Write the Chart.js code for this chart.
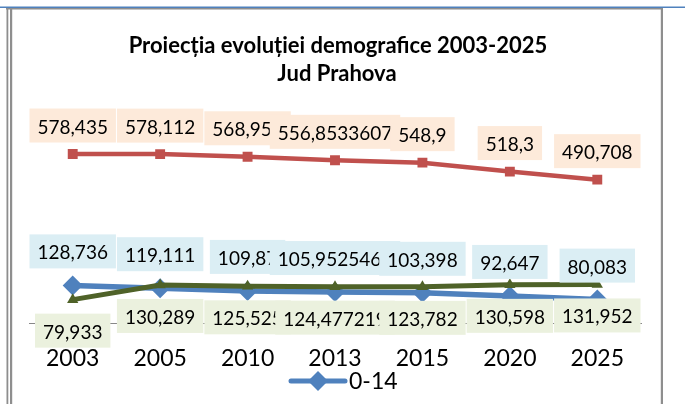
<!DOCTYPE html>
<html><head><meta charset="utf-8">
<script src="https://cdn.jsdelivr.net/npm/chart.js@4/dist/chart.umd.min.js"></script>
<style>html,body{margin:0;padding:0;background:#fff;overflow:hidden}
#wrap{position:relative;width:685px;height:404px}
</style></head><body><div id="wrap"><canvas id="c" width="685" height="404"></canvas></div>
<script>
// ---- data (thousands of inhabitants) ----
const categories = ['2003', '2005', '2010', '2013', '2015', '2020', '2025'];
const seriesNames = ['15-64', '0-14', '65+'];
const pop15_64 = [578.435, 578.112, 568.953, 556.8533607, 548.9, 518.3, 490.708];
const pop0_14 = [128.736, 119.111, 109.87, 105.9525463, 103.398, 92.647, 80.083];
const pop65 = [79.933, 130.289, 125.525, 124.477219, 123.782, 130.598, 131.952];
const titleLines = ['Proiecția evoluției demografice 2003-2025', 'Jud Prahova'];
const legendShown = ['0-14'];
const yMin = 0, yMax = 700;

const FONT = 'Lato, "Open Sans", sans-serif';
const colors = ['#C0504D', '#4F81BD', '#4F6228'];
const labelBg = ['#FDEADA', '#DBEEF4', '#EBF1DE'];
const labelDy = [-27.5, -33, 32];
const fmt = v => String(v).replace('.', ',');

const framePlugin = {
  id: 'frame',
  beforeDraw(chart) {
    const c = chart.ctx; c.save();
    c.fillStyle = '#fff'; c.fillRect(0, 0, chart.width, chart.height);
    c.fillStyle = '#4F81BD'; c.fillRect(0, 6.5, 685, 1.5);
    c.fillStyle = '#8E8E8E';
    c.fillRect(6, 8, 657, 1.5);
    c.fillRect(6.5, 8, 1.8, 396);
    c.fillRect(10, 8, 2.2, 396);
    c.fillRect(660.8, 8, 2.2, 396);
    c.restore();
  }
};

const labelPlugin = {
  id: 'dlabels',
  afterDatasetsDraw(chart) {
    const c = chart.ctx; c.save();
    c.font = '19px ' + FONT; c.textAlign = 'center'; c.textBaseline = 'alphabetic';
    chart.data.datasets.forEach((ds, i) => {
      const meta = chart.getDatasetMeta(i);
      meta.data.forEach((pt, j) => {
        const txt = fmt(ds.data[j]);
        const w = c.measureText(txt).width;
        const cy = pt.y + labelDy[i];
        c.fillStyle = labelBg[i];
        c.fillRect(pt.x - w / 2 - 8, cy - 1 - 17, w + 16, 34);
        c.fillStyle = '#000';
        c.fillText(txt, pt.x, cy + 7);
      });
    });
    c.restore();
  },
  afterDraw(chart) {
    const c = chart.ctx; c.save();
    c.fillStyle = '#000'; c.textAlign = 'center'; c.textBaseline = 'alphabetic';
    c.font = 'bold 22px ' + FONT;
    c.fillText(titleLines[0], 338, 53);
    c.fillText(titleLines[1], 337, 81);
    // legend (only the first entry is visible in the cropped original)
    const ly = 381;
    c.strokeStyle = colors[1]; c.lineWidth = 5; c.lineCap = 'round';
    c.beginPath(); c.moveTo(291, ly); c.lineTo(345, ly); c.stroke();
    c.fillStyle = colors[1];
    c.beginPath(); c.moveTo(318, ly - 10); c.lineTo(328, ly); c.lineTo(318, ly + 10); c.lineTo(308, ly); c.closePath(); c.fill();
    c.fillStyle = '#000'; c.textAlign = 'left'; c.font = '23px ' + FONT;
    c.fillText(legendShown[0], 349, ly + 8);
    c.restore();
  }
};

function build() {
  new Chart(document.getElementById('c'), {
    type: 'line',
    data: {
      labels: categories,
      datasets: [
        { label: seriesNames[0], data: pop15_64, borderColor: colors[0], backgroundColor: colors[0],
          borderWidth: 4.5, pointStyle: 'rect', pointRadius: 7, pointBorderWidth: 0, order: 3 },
        { label: seriesNames[1], data: pop0_14, borderColor: colors[1], backgroundColor: colors[1],
          borderWidth: 5.5, pointStyle: 'rectRot', pointRadius: 10, pointBorderWidth: 0, order: 2 },
        { label: seriesNames[2], data: pop65, borderColor: colors[2], backgroundColor: colors[2],
          borderWidth: 5, pointStyle: 'triangle', pointRadius: 6.5, pointBorderWidth: 0, order: 1 }
      ]
    },
    options: {
      responsive: false, animation: false, devicePixelRatio: 1,
      layout: { padding: { top: 118.5, left: 29, right: 44, bottom: 0 } },
      plugins: { legend: { display: false }, title: { display: false }, tooltip: { enabled: false } },
      elements: { line: { tension: 0 } },
      scales: {
        x: {
          offset: true,
          grid: { display: false, drawTicks: false },
          border: { display: true, color: '#888888', width: 1 },
          ticks: { color: '#000', font: { family: FONT, size: 23 }, padding: 22, maxRotation: 0 },
          afterFit: s => { s.height = 81; }
        },
        y: { display: false, min: yMin, max: yMax }
      }
    },
    plugins: [framePlugin, labelPlugin]
  });
}
if (document.fonts && document.fonts.load) {
  Promise.all([document.fonts.load('19px Lato'), document.fonts.load('bold 22px Lato')]).then(build, build);
} else build();
</script></body></html>
